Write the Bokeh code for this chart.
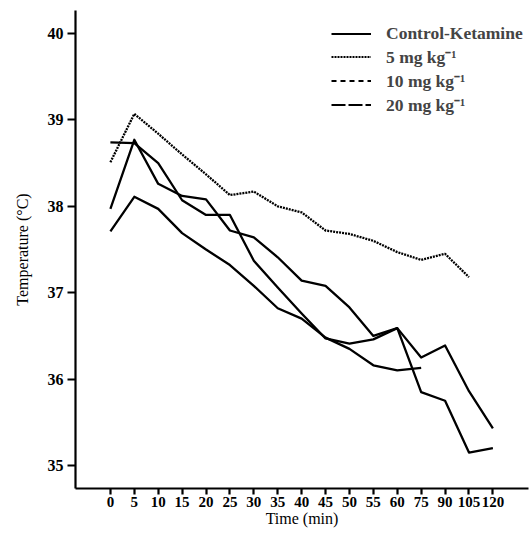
from bokeh.plotting import figure
from bokeh.models import FixedTicker, Range1d, Legend, LegendItem
from bokeh.embed import file_html
from bokeh.resources import INLINE

# Time points (equally spaced categories on the axis)
times = ["0", "5", "10", "15", "20", "25", "30", "35", "40", "45", "50",
         "55", "60", "75", "90", "105", "120"]

control_ketamine = [37.71, 38.11, 37.97, 37.69, 37.50, 37.32, 37.08, 36.82,
                    36.70, 36.48, 36.35, 36.16, 36.10, 36.13]
dose_5 = [38.51, 39.07, 38.84, 38.60, 38.37, 38.13, 38.17, 38.00, 37.93,
          37.72, 37.68, 37.60, 37.47, 37.38, 37.45, 37.18]
dose_10 = [37.97, 38.77, 38.26, 38.12, 38.08, 37.72, 37.64, 37.41, 37.14,
           37.08, 36.83, 36.50, 36.59, 36.25, 36.39, 35.86, 35.43]
dose_20 = [38.74, 38.73, 38.50, 38.07, 37.90, 37.90, 37.37, 37.06, 36.76,
           36.47, 36.41, 36.46, 36.59, 35.85, 35.75, 35.15, 35.20]

y_ticks = [35, 36, 37, 38, 39, 40]
legend_labels = ["Control-Ketamine", "5 mg kg\u207b\u00b9", "10 mg kg\u207b\u00b9", "20 mg kg\u207b\u00b9"]

FONT = "Liberation Serif"

p = figure(width=529, height=538, output_backend="svg", toolbar_location=None,
           x_range=Range1d(-1.46, 17.49), y_range=Range1d(34.734, 40.266),
           min_border_left=75, min_border_right=1, min_border_top=10,
           min_border_bottom=50)
p.outline_line_color = None
p.xgrid.visible = False
p.ygrid.visible = False
p.background_fill_color = "white"

def idx(vals):
    return list(range(len(vals)))

lw = 2.3
p.line(idx(control_ketamine), control_ketamine, color="black", line_width=lw, line_join="round")
p.line(idx(dose_5), dose_5, color="black", line_width=lw, line_dash="2 1", line_join="round")
p.line(idx(dose_10), dose_10, color="black", line_width=lw, line_join="round")
p.line(idx(dose_20), dose_20, color="black", line_width=lw, line_join="round")

# legend-only renderers (placed outside the visible range)
dashes = ["solid", "2 1", "5 4", "14 3"]
items = []
for lab, d in zip(legend_labels, dashes):
    r = p.line(x=[100, 101], y=[0, 0], color="black", line_width=2.2, line_dash=d)
    items.append(LegendItem(label=lab, renderers=[r]))

legend = Legend(items=items, location=(256, 372))
legend.padding = 0
legend.margin = 0
legend.spacing = 0
legend.border_line_color = None
legend.background_fill_alpha = 0
legend.label_height = 21
legend.glyph_height = 21
legend.glyph_width = 40
legend.label_standoff = 15
legend.label_text_font = FONT
legend.label_text_font_style = "bold"
legend.label_text_font_size = "17.5px"
p.add_layout(legend)

# axes
for ax in (p.xaxis[0], p.yaxis[0]):
    ax.axis_line_width = 2.2
    ax.axis_line_color = "black"
    ax.major_tick_line_width = 2.2
    ax.major_tick_line_color = "black"
    ax.minor_tick_line_color = None
    ax.major_tick_in = 0
    ax.major_label_text_font = FONT
    ax.major_label_text_font_style = "bold"
    ax.major_label_text_color = "black"
    ax.axis_label_text_font = FONT
    ax.axis_label_text_font_style = "normal"
    ax.axis_label_text_font_size = "16px"
    ax.axis_label_text_color = "black"

p.xaxis.ticker = FixedTicker(ticks=list(range(len(times))))
p.xaxis.major_label_overrides = {i: t for i, t in enumerate(times)}
p.xaxis.major_label_text_font_size = "15px"
p.xaxis.major_tick_out = 6
p.xaxis.major_label_standoff = 2
p.xaxis.axis_label = "Time (min)"
p.xaxis.axis_label_standoff = 0

p.yaxis.ticker = FixedTicker(ticks=y_ticks)
p.yaxis.major_label_text_font_size = "16px"
p.yaxis.major_tick_out = 8
p.yaxis.major_label_standoff = 4
p.yaxis.axis_label = "Temperature (\u00b0C)"
p.yaxis.axis_label_standoff = 14

open("out.html", "w").write(file_html(p, INLINE))
